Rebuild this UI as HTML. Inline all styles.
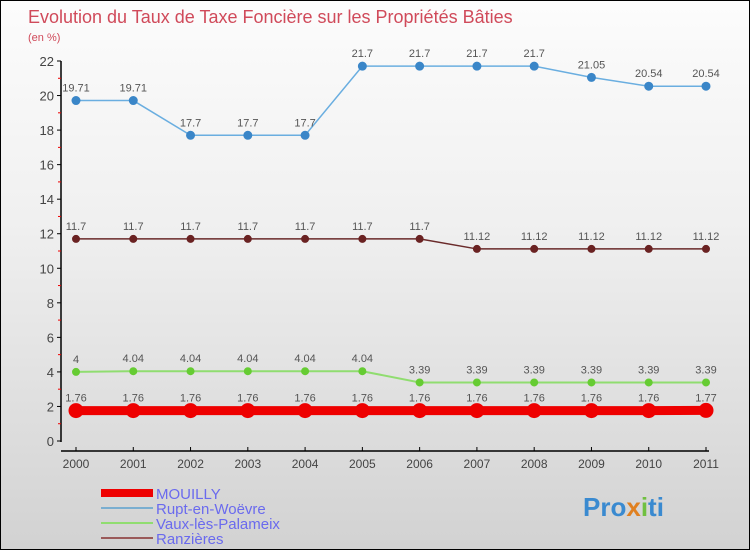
<!DOCTYPE html>
<html><head><meta charset="utf-8"><style>
body{margin:0}
#c{width:750px;height:550px;position:relative;box-sizing:border-box;border:1px solid #000;background:linear-gradient(#fcfcfc,#f0f0f0 40%,#d2d2d2);font-family:"Liberation Sans",sans-serif;overflow:hidden}
</style></head><body>
<div id="c">
<svg id="s" width="750" height="550" style="position:absolute;left:0;top:0"></svg>
</div>
<script>
const years=[2000,2001,2002,2003,2004,2005,2006,2007,2008,2009,2010,2011];
const yTicks=[0,2,4,6,8,10,12,14,16,18,20,22];
const mouilly=[1.76,1.76,1.76,1.76,1.76,1.76,1.76,1.76,1.76,1.76,1.76,1.77];
const rupt=[19.71,19.71,17.7,17.7,17.7,21.7,21.7,21.7,21.7,21.05,20.54,20.54];
const vaux=[4,4.04,4.04,4.04,4.04,4.04,3.39,3.39,3.39,3.39,3.39,3.39];
const ranz=[11.7,11.7,11.7,11.7,11.7,11.7,11.7,11.12,11.12,11.12,11.12,11.12];
const NS="http://www.w3.org/2000/svg";
const s=document.getElementById('s');
const X=i=>75+i*(630/(years.length-1));
const Y=v=>440-v*(380/22);
function el(t,a,p){const e=document.createElementNS(NS,t);for(const k in a)e.setAttribute(k,a[k]);(p||s).appendChild(e);return e;}
let t=el('text',{x:27,y:22,'font-size':18,fill:'#d04a5a'});t.textContent='Evolution du Taux de Taxe Foncière sur les Propriétés Bâties';


t=el('text',{x:27,y:40,'font-size':11,fill:'#d04a5a'});t.textContent='(en %)';


let a=el('line',{x1:60,y1:60,x2:60,y2:441,stroke:'#000','stroke-width':1.5});


a=el('line',{x1:60,y1:450,x2:708,y2:450,stroke:'#000','stroke-width':1.5});


yTicks.forEach(v=>{
 el('line',{x1:56,y1:Y(v),x2:60,y2:Y(v),stroke:'#000'});
 if(v<22) el('line',{x1:57,y1:Y(v+1),x2:60,y2:Y(v+1),stroke:'#e00'});
 const l=el('text',{x:53,y:Y(v)+5,'font-size':13,fill:'#444','text-anchor':'end'});l.textContent=v;
 
 
});
years.forEach((y,i)=>{
 el('line',{x1:X(i),y1:446,x2:X(i),y2:450,stroke:'#000'});
 const l=el('text',{x:X(i),y:467,'font-size':12,fill:'#444','text-anchor':'middle'});l.textContent=y;
 
 
});
function series(d,color,w,r,name,lc){
 const p=el('polyline',{points:d.map((v,i)=>X(i)+','+Y(v)).join(' '),fill:'none',stroke:color,'stroke-width':w});
 
 
 d.forEach((v,i)=>{
  const c=el('circle',{cx:X(i),cy:Y(v),r:r,fill:lc,stroke:lc});
  
  
  const l=el('text',{x:X(i),y:Y(v)-9,'font-size':11,fill:'#555','text-anchor':'middle'});l.textContent=v;
  
  
 });
}
series(rupt,'#6aaee0',1.5,4,'rupt','#3a86c8');
series(ranz,'#6a2a2a',1.5,3.5,'ranzieres','#6a2222');
series(vaux,'#90dd70',2,3.5,'vaux','#66cc33');
series(mouilly,'#ee0000',9,7,'mouilly','#ee0000');
const leg=[['MOUILLY','#ee0000',8],['Rupt-en-Woëvre','#7aaed0',2],['Vaux-lès-Palameix','#90dd70',2],['Ranzières','#9a5a5a',2]];
leg.forEach((g,i)=>{
 const y=492+i*15;
 const ln=el('line',{x1:100,y1:y,x2:152,y2:y,stroke:g[1],'stroke-width':g[2]});
 
 
 const l=el('text',{x:155,y:y+6,'font-size':15,fill:'#6a6aee'});l.textContent=g[0];
 
 
});
const lg=el('text',{x:582,y:515,'font-size':26,'font-weight':'bold',fill:'#3a8ad0'});
lg.innerHTML='Pro<tspan fill="#e08020">x</tspan><tspan fill="#70c040">i</tspan>ti';


</script>
</body></html>
